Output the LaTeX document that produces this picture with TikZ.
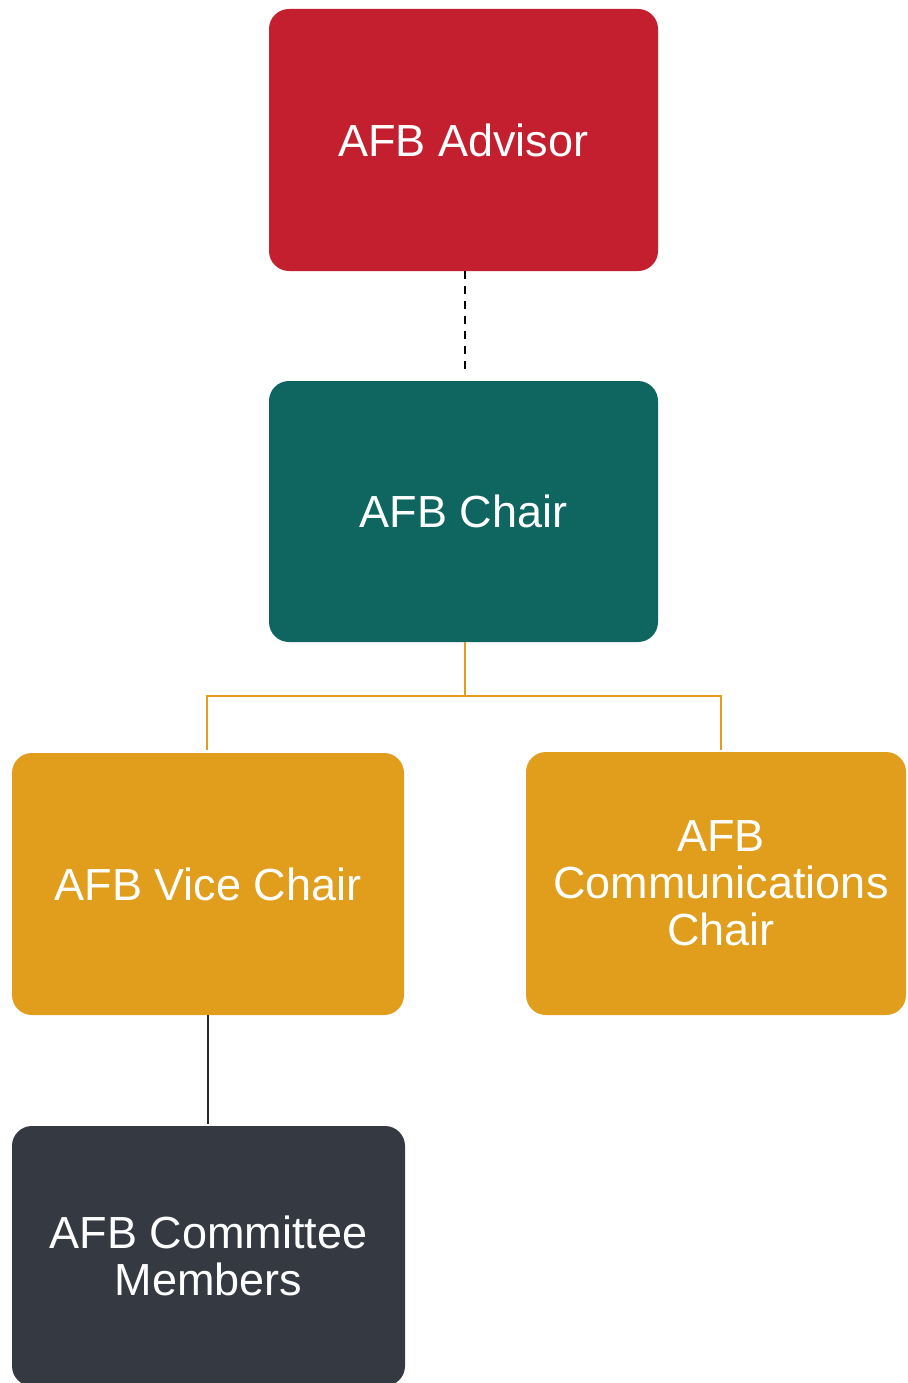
\documentclass[tikz,border=0pt]{standalone}
\usepackage{fontspec}
\setmainfont{Liberation Sans}
\definecolor{advred}{HTML}{C41F2F}
\definecolor{chairteal}{HTML}{0F6560}
\definecolor{gold}{HTML}{E09E1C}
\definecolor{darkgray}{HTML}{353A42}
\begin{document}
\begin{tikzpicture}[x=1pt,y=-1pt,
  box/.style={rounded corners=20pt, inner sep=0pt, align=center, text=white,
    font=\fontsize{45}{47}\selectfont, anchor=center},
  lbl/.style={align=center, text=white, inner sep=0pt, font=\fontsize{45}{47}\selectfont},
  line/.style={line width=2.2pt}]
\useasboundingbox (0,0) rectangle (907,1383);
\fill[white] (0,0) rectangle (907,1383);
\node[box, fill=advred, minimum width=389pt, minimum height=262pt] (adv) at (463.5,140) {AFB Advisor};
\node[box, fill=chairteal, minimum width=389pt, minimum height=261pt] (chair) at (463.5,511.5) {AFB Chair};
\node[box, fill=gold, minimum width=392pt, minimum height=262pt] (vice) at (208,884) {AFB Vice Chair};
\node[box, fill=gold, minimum width=380pt, minimum height=263pt] (comm) at (716,883.5) {};
\node[lbl] (commtxt) at (721,883.5) {AFB\\Communications\\Chair};
\node[box, fill=darkgray, minimum width=393pt, minimum height=260pt] (comt) at (208.5,1256) {AFB Committee\\Members};
\draw[line, black, dash pattern=on 8pt off 7pt] (adv.south) ++(1.5,0) -- ([xshift=1.5pt,yshift=7pt]chair.north);
\coordinate (j) at (465,696);
\coordinate (vtop) at (207,750);
\coordinate (ctop) at (721,750);
\coordinate (cm) at (208,1124);
\draw[line, gold] ([xshift=1.5pt]chair.south) -- (j);
\draw[line, gold] (vtop) |- (j) -| (ctop);
\draw[line, black!85] (vice.south) -- (cm);
\end{tikzpicture}
\end{document}
